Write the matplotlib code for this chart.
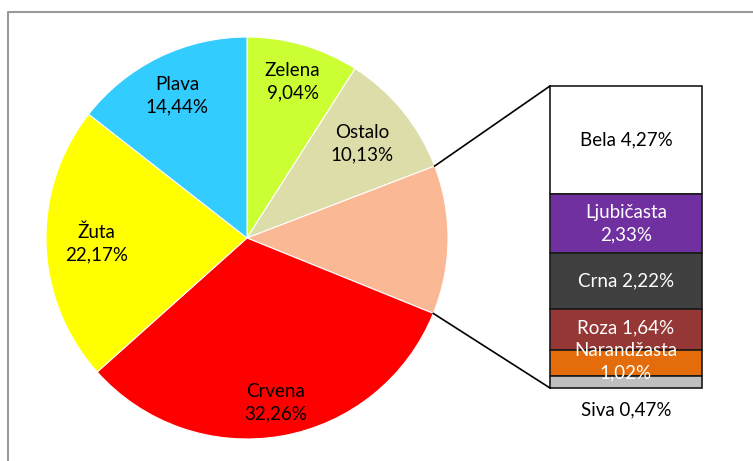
import numpy as np
import matplotlib
matplotlib.use("Agg")
import matplotlib.pyplot as plt

# ---- data ----
pie_labels = ["Zelena", "Ostalo", "", "Crvena", "Žuta", "Plava"]
pie_values = [9.04, 10.13, 11.95, 32.26, 22.17, 14.44]
pie_colors = ["#CCFF33", "#DDDDAA", "#FAB894", "#FF0000", "#FFFF00", "#33CCFF"]
pie_texts = ["Zelena\n9,04%", "Ostalo\n10,13%", "", "Crvena\n32,26%", "Žuta\n22,17%", "Plava\n14,44%"]
pie_label_r = [0.81, 0.74, 0.0, 0.83, 0.75, 0.79]

bar_labels = ["Bela", "Ljubičasta", "Crna", "Roza", "Narandžasta", "Siva"]
bar_values = [4.27, 2.33, 2.22, 1.64, 1.02, 0.47]
bar_colors = ["#FFFFFF", "#7030A0", "#404040", "#953735", "#E46C0A", "#BFBFBF"]
bar_texts = ["Bela 4,27%", "Ljubičasta\n2,33%", "Crna 2,22%", "Roza 1,64%", "Narandžasta\n1,02%", "Siva 0,47%"]
bar_text_colors = ["black", "white", "white", "white", "white", "black"]

plt.rcParams['font.family'] = ['Lato', 'DejaVu Sans']
FS = 13.5
LS = 1.38

W, H = 753, 461
fig = plt.figure(figsize=(W / 100, H / 100), dpi=100)
ax = fig.add_axes([0, 0, 1, 1])

# pie
cx, cy, R = 247, H - 238, 201
wedges, _ = ax.pie(pie_values, colors=pie_colors, startangle=90, counterclock=False,
                   center=(cx, cy), radius=R, frame=True,
                   wedgeprops=dict(edgecolor="white", linewidth=0.8))
ax.set_xlim(0, W)
ax.set_ylim(0, H)
ax.set_aspect('equal')
ax.axis('off')

# frame
ax.plot([8, 8, W + 5], [-5, H - 12, H - 12], color="#999999", lw=1.5, solid_capstyle='butt')

for w, t, r in zip(wedges, pie_texts, pie_label_r):
    if not t:
        continue
    th = np.deg2rad((w.theta1 + w.theta2) / 2)
    ax.text(cx + r * R * np.cos(th), cy + r * R * np.sin(th), t, ha='center', va='center',
            fontsize=FS, linespacing=LS, color='black')

# bar of pie
scale = 302 / sum(bar_values)
bx, bw = 626, 152
bottom_px = H - 388
tops = bottom_px + scale * np.cumsum(bar_values[::-1])[::-1]
heights = [v * scale for v in bar_values]
bottoms = [t - h for t, h in zip(tops, heights)]
ax.bar([bx] * len(bar_values), heights, width=bw, bottom=bottoms, color=bar_colors,
       edgecolor="#1a1a1a", linewidth=1.2)

for i, (t, c) in enumerate(zip(bar_texts, bar_text_colors)):
    if bar_labels[i] == "Siva":
        y = bottoms[i] - 22
    else:
        y = bottoms[i] + heights[i] / 2
    if bar_labels[i] in ("Roza", "Narandžasta"):
        y += 2
    ax.text(bx, y, t, ha='center', va='center', fontsize=FS, color=c, linespacing=LS)

# connector lines from the peach wedge to the bar
pw = wedges[2]
a_hi = np.deg2rad(max(pw.theta1, pw.theta2))
a_lo = np.deg2rad(min(pw.theta1, pw.theta2))
for a, yb in ((a_hi, tops[0]), (a_lo, bottoms[-1])):
    ax.plot([cx + R * np.cos(a), bx - bw / 2], [cy + R * np.sin(a), yb], color='black', lw=1.2)

fig.savefig("out.png", dpi=100, facecolor='white')
